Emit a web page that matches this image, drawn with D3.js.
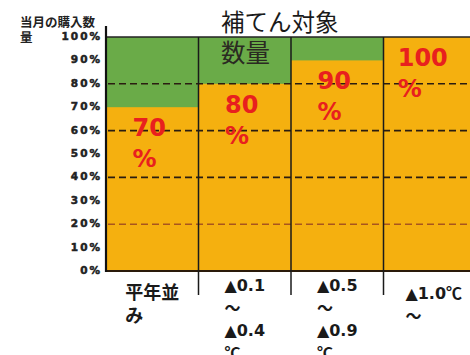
<!DOCTYPE html>
<html>
<head>
<meta charset="utf-8">
<script src="https://cdn.jsdelivr.net/npm/d3@7"></script>
<style>
  html, body { margin: 0; padding: 0; background: #ffffff; }
  svg { display: block; }
</style>
</head>
<body>
<div id="chart"></div>
<script>
// ---- data ----
const categories = ["平年並み", "▲0.1〜▲0.4℃", "▲0.5〜▲0.9℃", "▲1.0℃〜"];
const categoryLines = [["平年並", "み"], ["▲0.1", "〜", "▲0.4", "℃"], ["▲0.5", "〜", "▲0.9", "℃"], ["▲1.0℃", "〜"]];
const coveredShare = [0.7, 0.8, 0.9, 1.0];   // orange part (補てん対象)
const totalShare = [1.0, 1.0, 1.0, 1.0];     // whole bar (当月の購入数量)
const valueLabels = ["70", "80", "90", "100"];
const yTicks = [0, 0.1, 0.2, 0.3, 0.4, 0.5, 0.6, 0.7, 0.8, 0.9, 1.0];
const tickLabels = ["0%", "10%", "20%", "30%", "40%", "50%", "60%", "70%", "80%", "90%", "100%"];
const gridValues = [0.2, 0.4, 0.6, 0.8];
const titleLines = ["補てん対象", "数量"];
const yAxisTitle = ["当月の購入数", "量"];

// ---- layout ----
const W = 470, H = 355;
const svg = d3.select("#chart").append("svg").attr("width", W).attr("height", H);

const x = d3.scaleBand().domain(categories).range([106, 476]).padding(0);
const y = d3.scaleLinear().domain([0, 1]).range([271, 37]);

const green = "#6aab48", orange = "#f5b00f", red = "#e8201e";

// total bars (green)
svg.append("g").selectAll("rect").data(categories).join("rect")
  .attr("x", d => x(d)).attr("width", x.bandwidth())
  .attr("y", (d, i) => y(totalShare[i]))
  .attr("height", (d, i) => y(0) - y(totalShare[i]))
  .attr("fill", green);

// covered bars (orange)
svg.append("g").selectAll("rect").data(categories).join("rect")
  .attr("x", d => x(d)).attr("width", x.bandwidth())
  .attr("y", (d, i) => y(coveredShare[i]))
  .attr("height", (d, i) => y(0) - y(coveredShare[i]))
  .attr("fill", orange);

// dashed grid lines
svg.append("g").selectAll("line").data(gridValues).join("line")
  .attr("x1", 108).attr("x2", W)
  .attr("y1", d => y(d)).attr("y2", d => y(d))
  .attr("stroke", d => d === 0.2 ? "#a8551e" : "#2a1d10")
  .attr("stroke-width", 1.6)
  .attr("stroke-dasharray", "7,4");

// top and bottom borders
svg.append("line").attr("x1", 106).attr("x2", W).attr("y1", y(1)).attr("y2", y(1))
  .attr("stroke", "#222").attr("stroke-width", 1.5);
svg.append("line").attr("x1", 106).attr("x2", W).attr("y1", y(0)).attr("y2", y(0))
  .attr("stroke", "#2a1a0a").attr("stroke-width", 2);

// column separators
svg.append("g").selectAll("line").data(categories.slice(1)).join("line")
  .attr("x1", d => x(d)).attr("x2", d => x(d))
  .attr("y1", y(1)).attr("y2", 295)
  .attr("stroke", "#1a1a1a").attr("stroke-width", 1.5);

// y axis line
svg.append("line").attr("x1", 106).attr("x2", 106).attr("y1", 26).attr("y2", y(0) + 1)
  .attr("stroke", "#111").attr("stroke-width", 2.2);

// y tick labels
svg.append("g").selectAll("text").data(yTicks).join("text")
  .attr("x", 102).attr("y", d => y(d))
  .attr("text-anchor", "end").attr("dominant-baseline", "middle")
  .attr("font-family", "DejaVu Sans").attr("font-weight", "bold")
  .attr("font-size", 10.5).attr("letter-spacing", 2)
  .attr("fill", "#222").attr("stroke", "#222").attr("stroke-width", 0.5)
  .text((d, i) => tickLabels[i]);

// y axis title
svg.append("g").selectAll("text").data(yAxisTitle).join("text")
  .attr("x", 20).attr("y", (d, i) => 27 + i * 15)
  .attr("font-family", "Noto Sans CJK JP").attr("font-weight", "bold")
  .attr("font-size", 12.5).attr("fill", "#222")
  .text(d => d);

// chart title
svg.append("text").attr("x", 221).attr("y", 31)
  .attr("font-family", "Noto Sans CJK JP").attr("font-size", 23.5).attr("fill", "#1a1a1a")
  .text(titleLines[0]);
svg.append("text").attr("x", 221).attr("y", 62)
  .attr("font-family", "Noto Sans CJK JP").attr("font-size", 24.5).attr("fill", "#2a2a22")
  .text(titleLines[1]);

// value labels (red)
categories.forEach((c, i) => {
  const g = svg.append("text")
    .attr("font-family", "DejaVu Sans").attr("font-weight", "bold")
    .attr("font-size", 24).attr("fill", red);
  const t1 = g.append("tspan").attr("y", y(coveredShare[i]) + 29).text(valueLabels[i]);
  const w = t1.node().getComputedTextLength();
  const x0 = x(c) + x.bandwidth() / 2 - w / 2 - 3 - (i === 3 ? 4 : 0);
  t1.attr("x", x0);
  g.append("tspan").attr("x", x0).attr("y", y(coveredShare[i]) + 60).text("%");
});

// category labels
function addLine(textSel, ln) {
  const span = textSel.append("tspan");
  // render ℃ and 〜 with the CJK font, digits and ▲ with DejaVu
  const parts = ln.split(/([℃〜])/).filter(p => p.length);
  parts.forEach(p => {
    span.append("tspan")
      .attr("font-family", /[℃〜]/.test(p) ? "'Noto Sans CJK JP'" : "DejaVu Sans, 'Noto Sans CJK JP'")
      .text(p);
  });
  return span;
}
categories.forEach((c, i) => {
  const lines = categoryLines[i];
  const isCJK = !/^\u25B2/.test(lines[0]);
  const y0 = 303 - 4 * (lines.length - 1);
  const t = svg.append("text").attr("font-weight", "bold").attr("fill", "#1a1a1a")
    .attr("font-size", isCJK ? 18 : 16);
  let spans;
  if (isCJK) {
    t.attr("font-family", "'Noto Sans CJK JP'");
    spans = lines.map(ln => t.append("tspan").text(ln));
  } else {
    spans = lines.map(ln => addLine(t, ln));
  }
  spans.forEach((s, k) => s.attr("y", y0 + k * 22.5));
  const w = spans[0].node().getComputedTextLength();
  const x0 = x(c) + x.bandwidth() / 2 - w / 2 + (i === 3 ? 4 : 0);
  spans.forEach(s => s.attr("x", x0));
});
</script>
</body>
</html>
